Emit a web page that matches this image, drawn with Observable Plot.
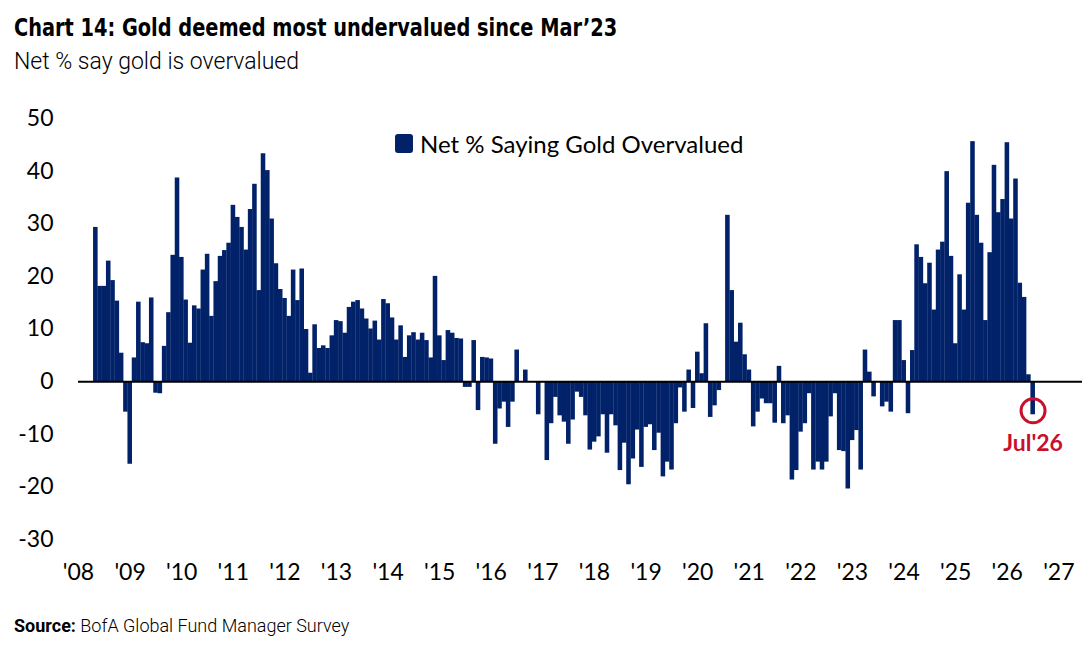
<!DOCTYPE html>
<html>
<head>
<meta charset="utf-8">
<script src="https://cdn.jsdelivr.net/npm/d3@7"></script>
<script src="https://cdn.jsdelivr.net/npm/@observablehq/plot@0.6"></script>
<style>
  body { margin: 0; background: #fff; }
  #page { position: relative; width: 1083px; height: 651px; overflow: hidden; font-family: Lato, "Open Sans", sans-serif; color: #000; }
  #title { position: absolute; left: 14px; top: 13px; font-family: "Liberation Sans Narrow", "DejaVu Sans Condensed", sans-serif; font-weight: bold; font-size: 25px; white-space: nowrap; transform: scaleX(0.86); transform-origin: left top; }
  #subtitle { position: absolute; left: 14px; top: 48px; font-family: Roboto, sans-serif; font-weight: 300; font-size: 23px; white-space: nowrap; }
  #chart { position: absolute; left: 0; top: 95px; }
  #legend { position: absolute; left: 395px; top: 129px; display: flex; align-items: center; font-family: Lato, sans-serif; font-size: 24px; white-space: nowrap; }
  #legend .sw { width: 18px; height: 19px; border-radius: 3px; margin-right: 7px; }
  #source { position: absolute; left: 14px; top: 615px; font-family: Roboto, sans-serif; font-weight: 300; font-size: 18px; white-space: nowrap; }
  #source b { font-weight: 700; }
</style>
</head>
<body>
<div id="page">
  <div id="title">Chart 14: Gold deemed most undervalued since Mar’23</div>
  <div id="subtitle">Net % say gold is overvalued</div>
  <div id="chart"></div>
  <div id="legend"><div class="sw"></div><span>Net % Saying Gold Overvalued</span></div>
  <div id="source"><b>Source:</b> BofA Global Fund Manager Survey</div>
</div>
<script>
// Monthly survey readings, first value is May 2008
const firstMonth = { year: 2008, month: 5 };
const netPctOvervalued = [
  29.3, 18.1, 18.1, 22.9, 19.2, 15.3, 5.4, -5.8,                        // 2008 (May-Dec)
  -15.7, 4.5, 15.1, 7.4, 7.2, 15.9, -2.2, -2.3, 6.7, 13.1, 24.0, 38.7,  // 2009
  23.6, 15.5, 7.3, 14.4, 13.8, 21.2, 24.2, 12.4, 19.0, 23.8, 24.9, 26.3, // 2010
  33.5, 31.2, 29.3, 25.0, 32.7, 37.5, 17.3, 43.3, 40.1, 30.9, 22.4, 17.5, // 2011
  15.8, 12.4, 21.2, 15.4, 21.4, 9.9, 1.6, 10.8, 6.3, 6.8, 6.3, 8.7,     // 2012
  11.6, 11.4, 9.2, 14.1, 15.1, 15.4, 13.8, 11.9, 10.0, 11.5, 7.9, 15.6, // 2013
  14.8, 12.1, 7.9, 10.6, 4.6, 8.7, 9.3, 7.9, 9.2, 7.8, 4.5, 20.0,       // 2014
  8.7, 4.0, 9.7, 9.2, 8.2, 8.1, -1.1, -1.1, 7.8, -5.5, 4.6, 4.5,        // 2015
  4.3, -11.9, -5.2, -3.9, -8.7, -3.9, 6.0, 0, 2.2, 0, 0, -6.3,          // 2016
  0, -15.0, -8.0, -3.0, -6.5, -7.7, -11.9, -7.3, -2.0, -3.0, -6.5, -13.0, // 2017
  -11.5, -10.5, -6.3, -13.6, -6.3, -8.4, -16.9, -11.7, -19.6, -14.7, -9.2, -16.3, // 2018
  -8.7, -8.2, -13.1, -9.8, -18.1, -15.3, -16.8, -8.0, -1.2, -5.8, 2.2, -5.1, // 2019
  5.6, 1.5, 11.0, -6.8, -4.6, -1.7, 0, 31.6, 17.3, 7.5, 11.1, 5.1,      // 2020
  2.2, -8.6, -5.8, -3.3, -4.2, -4.2, -7.9, 2.9, -8.0, -6.5, -18.7, -16.9, // 2021
  -9.6, -8.0, -2.3, -16.8, -15.3, -16.8, -15.3, -6.7, -2.3, -13.1, -13.3, -20.4, // 2022
  -11.2, -9.3, -16.8, 6.0, 1.8, -2.9, 0, -4.8, -3.9, -5.8, 11.6, 11.6,  // 2023
  4.0, -6.1, 5.9, 26.0, 23.6, 18.6, 22.5, 13.6, 25.0, 26.5, 39.9, 23.8, // 2024
  7.2, 20.3, 13.6, 33.9, 45.6, 31.6, 26.3, 11.6, 24.5, 41.1, 32.1, 34.6, // 2025
  45.4, 30.9, 38.5, 18.7, 16.0, 1.3, -6.3                               // 2026 (Jan-Jul)
];
const yearLabels = ["'08","'09","'10","'11","'12","'13","'14","'15","'16","'17","'18","'19","'20","'21","'22","'23","'24","'25","'26","'27"];
const yTicks = [-30, -20, -10, 0, 10, 20, 30, 40, 50];
const monthNames = ["Jan","Feb","Mar","Apr","May","Jun","Jul","Aug","Sep","Oct","Nov","Dec"];

const navy = "#012169";
const red = "#C8102E";
const baseYear = 2008;

// month index counted from Jan of the first labelled year
const rows = netPctOvervalued.map((value, i) => {
  const m = (firstMonth.year - baseYear) * 12 + (firstMonth.month - 1) + i;
  return { m, value, year: baseYear + Math.floor(m / 12), month: m % 12 };
});
const latest = rows[rows.length - 1];
const latestLabel = `${monthNames[latest.month]}'${String(latest.year).slice(2)}`;
const yearTicks = yearLabels.map((_, k) => k * 12);

const chart = Plot.plot({
  width: 1083,
  height: 500,
  marginLeft: 78,
  marginRight: 1,
  marginTop: 23,
  marginBottom: 56,
  x: { domain: [0, 233.5], axis: null },
  y: { domain: [-30, 50], axis: null },
  style: { fontFamily: "Lato, sans-serif", fontSize: "23px", color: "#000", background: "#fff" },
  marks: [
    Plot.axisY(yTicks, { tickSize: 0, tickPadding: 25, tickFormat: d => String(d), fontSize: 23, label: null }),
    Plot.axisX(yearTicks, { tickSize: 0, tickPadding: 24, tickFormat: t => yearLabels[t / 12], fontSize: 23, label: null }),
    Plot.rectY(rows, { x1: d => d.m - 0.5, x2: d => d.m + 0.56, y: "value", fill: navy }),
    Plot.ruleY([0], { stroke: "#000", strokeWidth: 2 }),
    Plot.dot([latest], { x: "m", y: "value", r: 12, stroke: red, strokeWidth: 3, fill: "none", dy: -4 }),
    Plot.text([latest], { x: "m", y: "value", text: () => latestLabel, dy: 29, fill: red, fontWeight: "bold", fontSize: 23 })
  ]
});
document.getElementById("chart").appendChild(chart);
document.querySelector("#legend .sw").style.background = navy;
</script>
</body>
</html>
